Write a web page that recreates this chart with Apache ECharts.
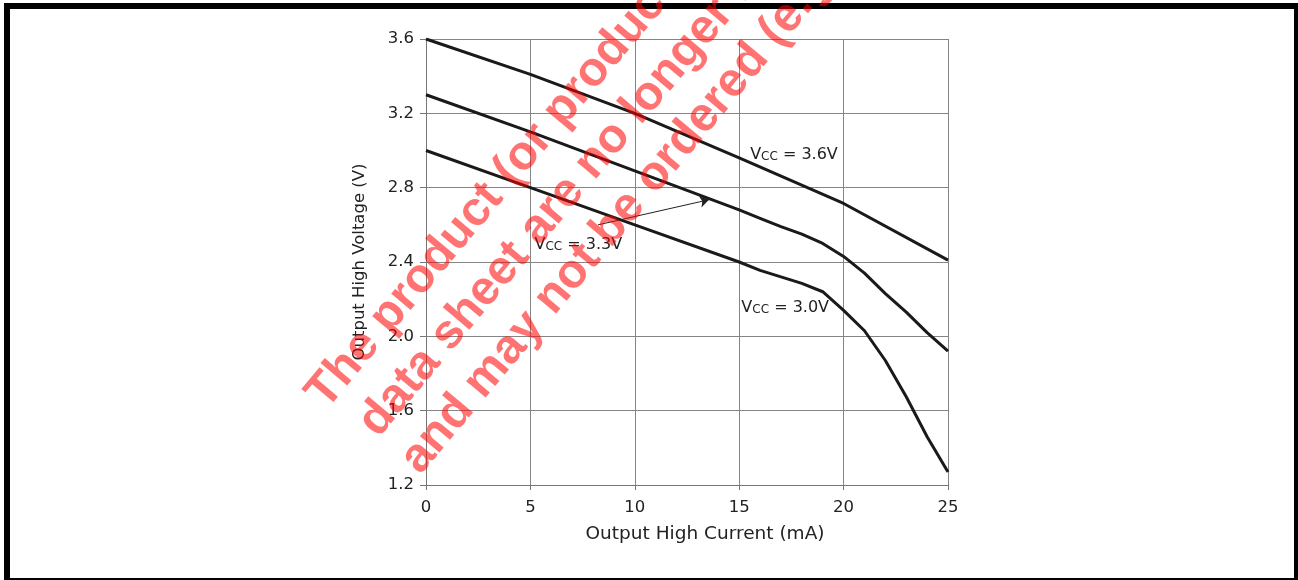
<!DOCTYPE html>
<html>
<head>
<meta charset="utf-8">
<script src="https://cdn.jsdelivr.net/npm/echarts@6/dist/echarts.min.js"></script>
<style>
  html, body { margin: 0; padding: 0; background: #fff; }
  #chart { width: 1298px; height: 580px; }
</style>
</head>
<body>
<div id="chart"></div>
<script>
// ---- data ----
var xTicks = [0, 5, 10, 15, 20, 25];
var yTicks = [1.2, 1.6, 2.0, 2.4, 2.8, 3.2, 3.6];

var current36 = [0, 5, 10, 15, 20, 25];
var vout36    = [3.60, 3.41, 3.20, 2.96, 2.715, 2.41];

var current33 = [0, 5, 10, 15, 16, 17, 18, 19, 20, 21, 22, 23, 24, 25];
var vout33    = [3.30, 3.10, 2.89, 2.68, 2.635, 2.59, 2.55, 2.50, 2.43, 2.34, 2.23, 2.13, 2.02, 1.92];

var current30 = [0, 5, 10, 15, 16, 17, 18, 19, 20, 21, 22, 23, 24, 25];
var vout30    = [3.00, 2.80, 2.60, 2.40, 2.355, 2.32, 2.285, 2.24, 2.14, 2.03, 1.87, 1.675, 1.46, 1.27];

var seriesNames = ['VCC = 3.6V', 'VCC = 3.3V', 'VCC = 3.0V'];
var labelVcc = ['3.6V', '3.3V', '3.0V'];
var labelPos = [[15.5, 2.98], [5.17, 2.50], [15.08, 2.16]];
var arrow33 = [[8.24, 2.60], [13.55, 2.735]];

var xTitle = 'Output High Current (mA)';
var yTitle = 'Output High Voltage (V)';

var watermarkLines = [
  'The product (or products) in this',
  'data sheet are no longer recommended',
  'and may not be ordered (e.g., obsolete)'
];

// ---- build ----
function pairs(xs, ys) { return xs.map(function (x, i) { return [x, ys[i]]; }); }

var FONT = 'DejaVu Sans';
var TXT = '#222';

function vccLabel(i) {
  return {
    symbol: 'circle', symbolSize: 1,
    itemStyle: { color: 'rgba(0,0,0,0)' },
    data: [{ coord: labelPos[i], value: labelVcc[i] }],
    label: {
      show: true, position: 'right', distance: 0,
      formatter: '{v|V}{s|CC}{v| = ' + labelVcc[i] + '}',
      rich: {
        v: { fontFamily: FONT, fontSize: 16, color: TXT, verticalAlign: 'bottom', lineHeight: 18 },
        s: { fontFamily: FONT, fontSize: 12, color: TXT, verticalAlign: 'bottom', lineHeight: 16 }
      }
    }
  };
}

var lineStyle = { color: '#1a1a1a', width: 3 };

var series = [
  { name: seriesNames[0], type: 'line', data: pairs(current36, vout36), showSymbol: false, symbol: 'none',
    lineStyle: lineStyle, markPoint: vccLabel(0), z: 3 },
  { name: seriesNames[1], type: 'line', data: pairs(current33, vout33), showSymbol: false, symbol: 'none',
    lineStyle: lineStyle, markPoint: vccLabel(1), z: 3,
    markLine: {
      silent: true, symbol: ['none', 'arrow'], symbolSize: [9, 9],
      lineStyle: { color: '#222', width: 1, type: 'solid' },
      label: { show: false },
      data: [[{ coord: arrow33[0] }, { coord: arrow33[1] }]]
    } },
  { name: seriesNames[2], type: 'line', data: pairs(current30, vout30), showSymbol: false, symbol: 'none',
    lineStyle: lineStyle, markPoint: vccLabel(2), z: 3 }
];

var rad = 50 * Math.PI / 180;
var wmAnchors = [[316, 402], [368, 430], [410, 467]];
var graphics = [
  { type: 'rect', z: 50, silent: true,
    shape: { x: 7, y: 6, width: 1290, height: 575 },
    style: { fill: 'none', stroke: '#000', lineWidth: 6 } }
];
watermarkLines.forEach(function (t, i) {
  graphics.push({
    type: 'text', z: 100, silent: true,
    x: wmAnchors[i][0], y: wmAnchors[i][1], rotation: rad,
    style: {
      text: t, fill: 'rgba(255,0,0,0.55)',
      font: 'bold 48px "Liberation Sans", Arial, sans-serif',
      align: 'left', verticalAlign: 'middle'
    }
  });
});

var chart = echarts.init(document.getElementById('chart'), null, { renderer: 'canvas' });
chart.setOption({
  animation: false,
  backgroundColor: '#fff',
  grid: { left: 426, right: 350, top: 39, bottom: 95, containLabel: false },
  xAxis: {
    type: 'value', min: xTicks[0], max: xTicks[xTicks.length - 1], interval: 5,
    name: xTitle, nameLocation: 'middle', nameGap: 40,
    nameTextStyle: { fontFamily: FONT, fontSize: 18.5, color: TXT, padding: [0, 0, 0, 36] },
    axisLine: { show: true, lineStyle: { color: '#777', width: 1 } },
    axisTick: { show: true, length: 5, lineStyle: { color: '#777' } },
    axisLabel: { fontFamily: FONT, fontSize: 16.5, color: TXT, margin: 14 },
    splitLine: { show: true, lineStyle: { color: '#858585', width: 1 } }
  },
  yAxis: {
    type: 'value', min: yTicks[0], max: yTicks[yTicks.length - 1], interval: 0.4,
    name: yTitle, nameLocation: 'middle', nameGap: 58, nameRotate: 90,
    nameTextStyle: { fontFamily: FONT, fontSize: 16.5, color: TXT },
    axisLine: { show: true, lineStyle: { color: '#777', width: 1 } },
    axisTick: { show: true, length: 6, lineStyle: { color: '#777' } },
    axisLabel: { fontFamily: FONT, fontSize: 16.5, color: TXT, margin: 12,
      formatter: function (v) { return v.toFixed(1); } },
    splitLine: { show: true, lineStyle: { color: '#858585', width: 1 } }
  },
  series: series,
  graphic: graphics
});
</script>
</body>
</html>
